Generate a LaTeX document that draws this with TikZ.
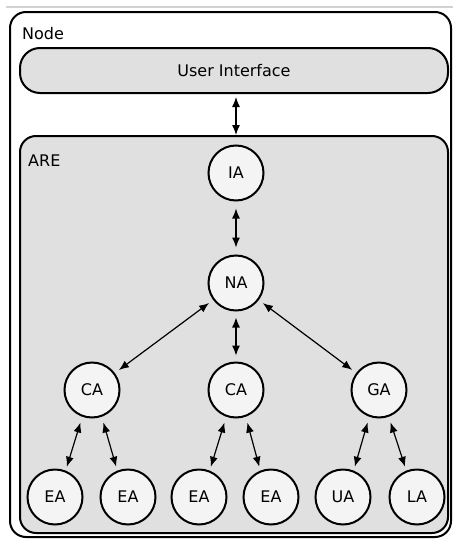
\documentclass[tikz,border=0pt]{standalone}
\usepackage{fontspec}
\setmainfont{DejaVu Sans}
\usetikzlibrary{arrows.meta}
\definecolor{boxgray}{HTML}{E0E0E0}
\definecolor{circfill}{HTML}{F4F4F4}
\tikzset{
  agent/.style={circle, draw=black, line width=2pt, fill=circfill, minimum size=55pt, inner sep=0pt, font=\fontsize{16}{19}\selectfont},
  bigbox/.style={draw=black, line width=2pt, rounded corners=16pt, inner sep=0pt},
  biarrow/.style={{Latex[length=10pt,width=8pt]}-{Latex[length=10pt,width=8pt]}, line width=1.2pt},
  lbl/.style={anchor=west, inner sep=0pt, font=\fontsize{16}{19}\selectfont}
}
\begin{document}
\begin{tikzpicture}[x=1pt, y=-1pt]
\useasboundingbox (0,0) rectangle (453,541);
\fill[white] (0,0) rectangle (453,541);
\draw[gray!35, line width=2pt] (6,7) -- (453,7);
% outer node box
\node[bigbox, fill=white, minimum width=441pt, minimum height=525pt] (nodebox) at (230.5,274.5) {};
\node[lbl] (nodelbl) at (22,34) {Node};
% user interface
\node[bigbox, fill=boxgray, rounded corners=20pt, minimum width=428pt, minimum height=45pt, font=\fontsize{16}{19}\selectfont] (ui) at (234,70.5) {User Interface};
% ARE box
\node[bigbox, fill=boxgray, minimum width=428pt, minimum height=397pt] (are) at (234,334.5) {};
\node[lbl] (arelbl) at (28,161) {ARE};
% agents
\node[agent] (ia) at (236,173) {IA};
\node[agent] (na) at (236,283) {NA};
\node[agent] (ca1) at (92,390) {CA};
\node[agent] (ca2) at (236,390) {CA};
\node[agent] (ga) at (379,390) {GA};
\node[agent] (ea1) at (55,497) {EA};
\node[agent] (ea2) at (128,497) {EA};
\node[agent] (ea3) at (199,497) {EA};
\node[agent] (ea4) at (271,497) {EA};
\node[agent] (ua) at (343,497) {UA};
\node[agent] (la) at (417,497) {LA};
% connectors
\draw[biarrow, shorten <=3pt, shorten >=0pt] (ui.south -| ia) -- (are.north -| ia);
\draw[biarrow, shorten <=7pt, shorten >=7pt] (ia) -- (na);
\draw[biarrow, shorten <=5pt, shorten >=5pt] (na) -- (ca1);
\draw[biarrow, shorten <=6pt, shorten >=6pt] (na) -- (ca2);
\draw[biarrow, shorten <=5pt, shorten >=5pt] (na) -- (ga);
\draw[biarrow, shorten <=6pt, shorten >=4pt] (ca1.-110) -- (ea1.68);
\draw[biarrow, shorten <=6pt, shorten >=4pt] (ca1.-70) -- (ea2.112);
\draw[biarrow, shorten <=6pt, shorten >=4pt] (ca2.-110) -- (ea3.68);
\draw[biarrow, shorten <=6pt, shorten >=4pt] (ca2.-70) -- (ea4.112);
\draw[biarrow, shorten <=6pt, shorten >=4pt] (ga.-110) -- (ua.68);
\draw[biarrow, shorten <=6pt, shorten >=4pt] (ga.-70) -- (la.112);
\end{tikzpicture}
\end{document}
